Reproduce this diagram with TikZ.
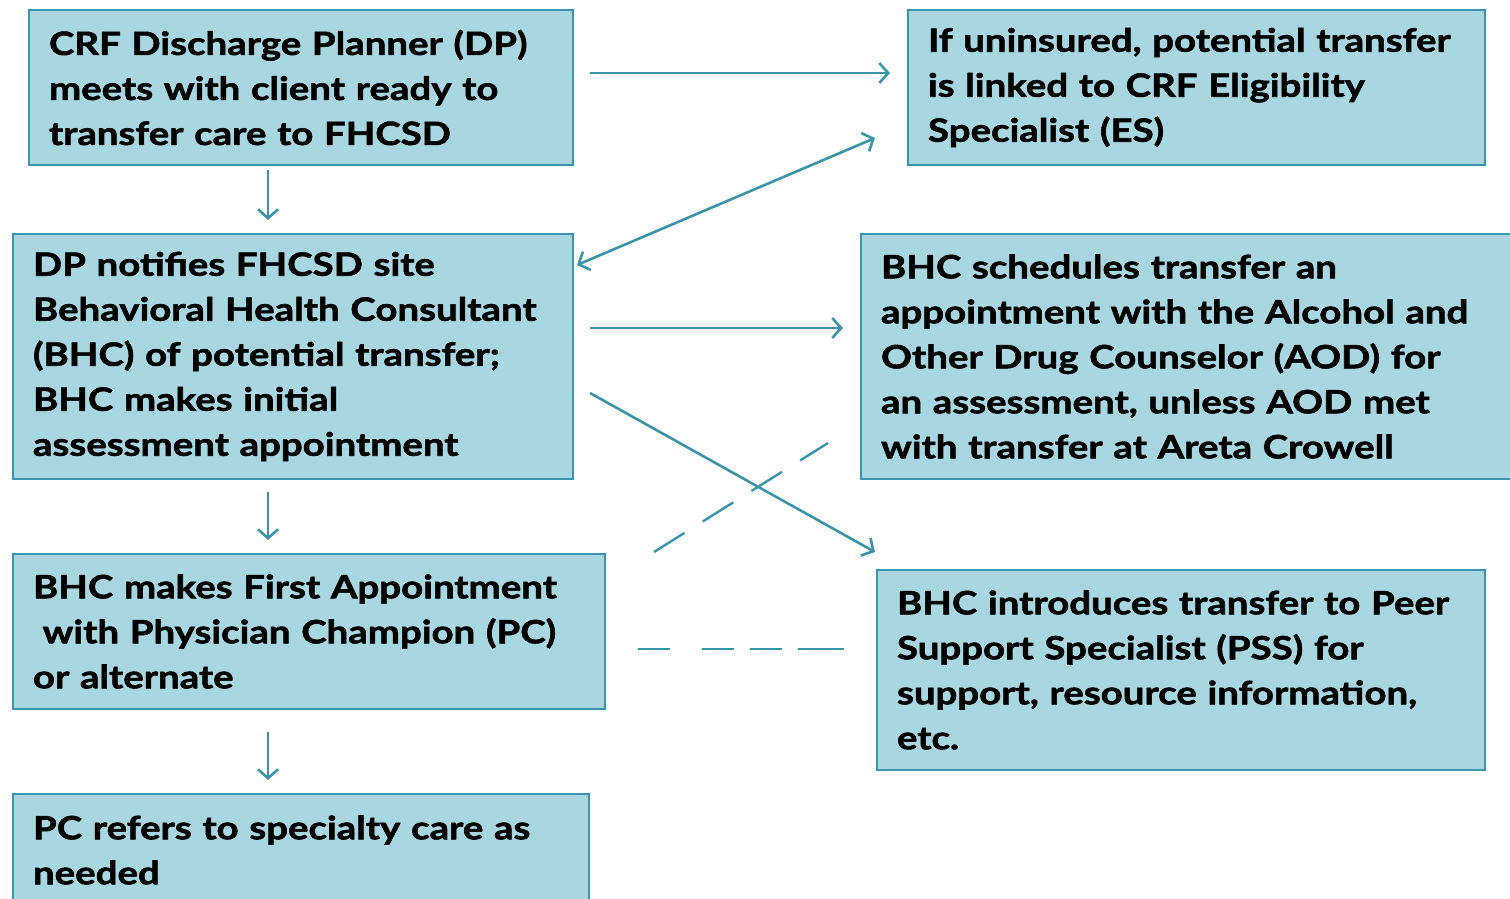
\documentclass[tikz,border=0pt]{standalone}
\usepackage{fontspec}
\setmainfont{Lato}[UprightFont=* Bold, FakeStretch=1.2, FakeBold=1.8]
\usetikzlibrary{arrows.meta,calc}
\definecolor{boxfill}{RGB}{168,215,225}
\definecolor{boxline}{RGB}{62,150,172}
\definecolor{arrcol}{RGB}{58,148,170}
\tikzset{
  flowbox/.style={draw=boxline, line width=2pt, fill=boxfill, anchor=north west,
    inner xsep=20pt, inner ysep=0pt, align=left, font=\fontsize{32}{45}\selectfont},
  tip/.style={},
  arr/.style={draw=arrcol, line width=2.6pt, -{Straight Barb[length=9pt,width=20pt,line width=2.6pt]}},
  darr/.style={draw=arrcol, line width=2.6pt, {Straight Barb[length=9pt,width=20pt,line width=2.6pt]}-{Straight Barb[length=9pt,width=20pt,line width=2.6pt]}},
  dline/.style={draw=arrcol, line width=2.4pt, dash pattern=on 36pt off 21.5pt},
  hdline/.style={draw=arrcol, line width=2.6pt, dash pattern=on 32pt off 32pt on 32pt off 16pt on 32pt off 16pt on 60pt off 10pt},
}
\begin{document}
\begin{tikzpicture}[x=1pt,y=1pt]
\useasboundingbox (0,0) rectangle (1510,-899);
\node[flowbox, text width=504pt, minimum height=155pt] (A) at (28,-9)
  {CRF Discharge Planner (DP)\\meets with client ready to\\transfer care to FHCSD};
\node[flowbox, text width=537pt, minimum height=155pt] (B) at (907,-9)
  {If uninsured, potential transfer\\is linked to CRF Eligibility\\Specialist (ES)};
\node[flowbox, text width=520pt, minimum height=245pt] (C) at (12,-233)
  {DP notifies FHCSD site\\Behavioral Health Consultant\\(BHC) of potential transfer;\\BHC makes initial\\assessment appointment};
\node[flowbox, text width=612pt, minimum height=245pt] (D) at (860,-233)
  {BHC schedules transfer an\\appointment with the Alcohol and\\Other Drug Counselor (AOD) for\\an assessment, unless AOD met\\with transfer at Areta Crowell};
\node[flowbox, text width=552pt, minimum height=155pt] (E) at (12,-553)
  {BHC makes First Appointment\\\hspace*{0.3em}with Physician Champion (PC)\\or alternate};
\node[flowbox, text width=568pt, minimum height=200pt] (F) at (876,-569)
  {BHC introduces transfer to Peer\\Support Specialist (PSS) for\\support, resource information,\\etc.};
\node[flowbox, text width=536pt, minimum height=112pt] (G) at (12,-793)
  {PC refers to specialty care as\\needed};
% connector end points
\coordinate (a1) at ($(A.north west)+(240,-161)$);
\coordinate (c1) at ($(C.north west)+(256,13)$);
\coordinate (a2) at ($(A.north east)+(16,-64)$);
\coordinate (b2) at ($(B.north west)+(-17,-64)$);
\coordinate (c3) at ($(C.north east)+(3,-32)$);
\coordinate (b3) at ($(B.north west)+(-32,-129)$);
\coordinate (c4) at ($(C.north east)+(16,-95)$);
\coordinate (d4) at ($(D.north west)+(-17,-95)$);
\coordinate (c5) at ($(C.north east)+(16,-160)$);
\coordinate (f5) at ($(F.north west)+(-1,17)$);
\coordinate (c6) at ($(C.south west)+(256,-12)$);
\coordinate (e6) at ($(E.north west)+(256,13)$);
\coordinate (e7) at ($(E.south west)+(256,-22)$);
\coordinate (g7) at ($(G.north west)+(256,13)$);
\coordinate (e8) at ($(E.north east)+(48,1)$);
\coordinate (d8) at ($(D.south west)+(-32,37)$);
\coordinate (e9) at ($(E.north east)+(32,-96)$);
\coordinate (f9) at ($(F.north west)+(-32,-80)$);
\draw[arr] (a1) -- (c1);
\draw[arr] (a2) -- (b2);
\draw[darr] (c3) -- (b3);
\draw[arr] (c4) -- (d4);
\draw[arr] (c5) -- (f5);
\draw[arr] (c6) -- (e6);
\draw[arr] (e7) -- (g7);
\draw[dline] (e8) -- (d8);
\draw[hdline] (e9) -- (f9);
\end{tikzpicture}
\end{document}
